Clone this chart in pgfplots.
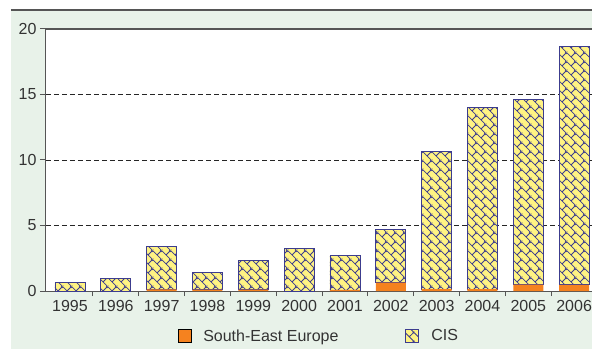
\documentclass[border=0pt]{standalone}
\usepackage{pgfplots}
\pgfplotsset{compat=1.18}
\usepackage{pgfplotstable}
\usepackage{fontspec}
\setmainfont{Liberation Sans}
\usetikzlibrary{patterns.meta}
\definecolor{bggreen}{HTML}{E8F2E9}
\definecolor{seeorange}{HTML}{F5821F}
\definecolor{cisyellow}{HTML}{FFF383}
\definecolor{cisnavy}{HTML}{3C3C8E}
\definecolor{axisgray}{HTML}{555555}
\definecolor{textgray}{HTML}{333333}

\pgfdeclarepattern{
  name=bricks,
  type=uncolored,
  bottom left={\pgfpoint{0pt}{0pt}},
  top right={\pgfpoint{9bp}{9bp}},
  tile size={\pgfpoint{9bp}{9bp}},
  code={
    \pgfsetlinewidth{0.9bp}
    \pgfpathmoveto{\pgfpoint{-1bp}{1bp}}\pgfpathlineto{\pgfpoint{1bp}{-1bp}}
    \pgfpathmoveto{\pgfpoint{-1bp}{10bp}}\pgfpathlineto{\pgfpoint{10bp}{-1bp}}
    \pgfpathmoveto{\pgfpoint{8bp}{10bp}}\pgfpathlineto{\pgfpoint{10bp}{8bp}}
    \pgfpathmoveto{\pgfpoint{4.5bp}{4.5bp}}\pgfpathlineto{\pgfpoint{9.5bp}{9.5bp}}
    \pgfusepath{stroke}
  }
}

\pgfplotstableread{
x see cis
0 0 0.66
1 0 0.97
2 0.13 3.29
3 0.10 1.32
4 0.10 2.26
5 0 3.22
6 0.08 2.61
7 0.64 4.06
8 0.15 10.53
9 0.15 13.83
10 0.49 14.15
11 0.47 18.21
}\datatable

\begin{document}
\begin{tikzpicture}
\useasboundingbox (-46bp,-58bp) rectangle (546bp,291bp);
\fill[bggreen] (-35bp,-58bp) rectangle (546bp,281bp);
\draw[line width=1.6bp, axisgray] (-35bp,281bp) -- (546bp,281bp);
\begin{axis}[
  scale only axis,
  width=546bp, height=262bp,
  xmin=-0.523, xmax=11.39, ymin=0, ymax=20,
  ybar stacked, bar width=30bp,
  axis background/.style={fill=white},
  axis x line*=bottom, axis y line*=left,
  axis line style={axisgray, line width=1bp},
  ytick={0,5,10,15,20},
  ymajorgrids,
  grid style={black!85, dash pattern=on 5bp off 3bp, line width=0.8bp},
  xtick={0,...,11},
  xticklabels={1995,1996,1997,1998,1999,2000,2001,2002,2003,2004,2005,2006},
  major x tick style={draw=none},
  minor xtick={0.5,1.5,...,10.5},
  tick align=outside,
  major tick length=6bp, minor tick length=5bp,
  tick style={axisgray, line width=1bp},
  tick label style={font=\fontsize{16bp}{19bp}\selectfont, text=textgray},
  /pgf/number format/assume math mode=true,
  legend style={at={(axis description cs:0.5,-0.172)}, anchor=center, draw=none, fill=none,
    font=\fontsize{16bp}{19bp}\selectfont, text=textgray,
    /tikz/every even column/.append style={column sep=65bp}},
  legend columns=2,
  legend image code/.code={\draw[#1] (0bp,-6.5bp) rectangle (13bp,6.5bp); \path (23bp,0bp);},
]
\addplot[fill=seeorange, draw=none] table[x=x,y=see]{\datatable};
\addplot[fill=cisyellow, draw=cisnavy, line width=0.8bp, postaction={pattern=bricks, pattern color=cisnavy}] table[x=x,y=cis]{\datatable};
\draw[axisgray, line width=1.2bp] (rel axis cs:0,1) -- (rel axis cs:1,1);
\legend{South-East Europe, CIS}
\end{axis}
\end{tikzpicture}
\end{document}
